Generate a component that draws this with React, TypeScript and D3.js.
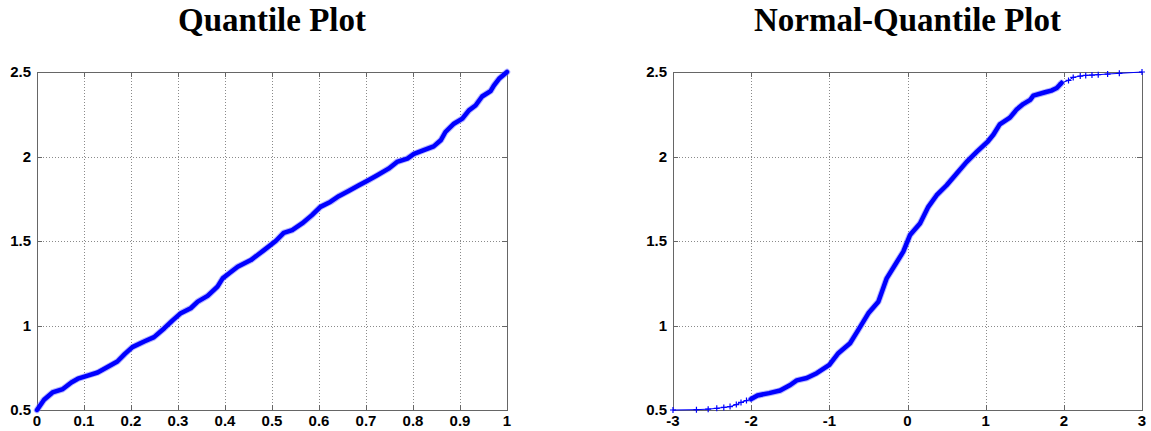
import * as d3 from "d3";
import React from "react";

// left panel: sorted sample values against their fraction
const qpFraction = [0, 0.015, 0.033, 0.055, 0.073, 0.087, 0.108, 0.129, 0.15, 0.171, 0.187, 0.203, 0.228, 0.249, 0.271, 0.288, 0.306, 0.327, 0.342, 0.363, 0.384, 0.395, 0.409, 0.427, 0.455, 0.483, 0.508, 0.525, 0.543, 0.564, 0.585, 0.603, 0.624, 0.642, 0.663, 0.685, 0.702, 0.724, 0.748, 0.766, 0.788, 0.802, 0.823, 0.844, 0.859, 0.869, 0.887, 0.905, 0.919, 0.933, 0.947, 0.965, 0.972, 0.983, 1.0];
const qpValue = [0.5, 0.561, 0.604, 0.624, 0.663, 0.685, 0.704, 0.722, 0.754, 0.787, 0.832, 0.872, 0.905, 0.931, 0.984, 1.029, 1.073, 1.102, 1.141, 1.175, 1.23, 1.279, 1.309, 1.348, 1.387, 1.446, 1.5, 1.548, 1.564, 1.604, 1.653, 1.702, 1.731, 1.765, 1.796, 1.83, 1.855, 1.889, 1.928, 1.968, 1.988, 2.015, 2.038, 2.06, 2.096, 2.145, 2.194, 2.224, 2.273, 2.302, 2.355, 2.387, 2.42, 2.46, 2.5];

// right panel: normal quantile vs value, tails are sparse markers
const nqLowZ = [-3.0, -2.7, -2.55, -2.44, -2.35, -2.27, -2.19, -2.13, -2.06, -2.0];
const nqLowY = [0.5, 0.502, 0.505, 0.51, 0.515, 0.52, 0.532, 0.545, 0.556, 0.565];
const nqBodyZ = [-2.0, -1.92, -1.77, -1.63, -1.5, -1.417, -1.289, -1.161, -1.0, -0.885, -0.735, -0.629, -0.501, -0.373, -0.266, -0.16, -0.054, 0.032, 0.16, 0.266, 0.373, 0.501, 0.629, 0.757, 0.885, 1.03, 1.1, 1.18, 1.31, 1.4, 1.48, 1.57, 1.61, 1.76, 1.84, 1.91, 1.97];
const nqBodyY = [0.565, 0.586, 0.6, 0.615, 0.648, 0.675, 0.689, 0.718, 0.767, 0.836, 0.895, 0.974, 1.072, 1.141, 1.279, 1.358, 1.437, 1.535, 1.604, 1.702, 1.771, 1.83, 1.899, 1.968, 2.027, 2.09, 2.13, 2.19, 2.23, 2.28, 2.31, 2.335, 2.36, 2.38, 2.39, 2.405, 2.435];
const nqHighZ = [1.97, 2.06, 2.12, 2.21, 2.28, 2.36, 2.44, 2.56, 2.71, 3.0];
const nqHighY = [2.435, 2.45, 2.468, 2.476, 2.48, 2.482, 2.484, 2.488, 2.492, 2.5];

const leftXTicks = [0, 0.1, 0.2, 0.3, 0.4, 0.5, 0.6, 0.7, 0.8, 0.9, 1];
const rightXTicks = [-3, -2, -1, 0, 1, 2, 3];
const yTicks = [0.5, 1, 1.5, 2, 2.5];

const top = 72;
const bottom = 410;
const blue = "#0000ff";
const axisCol = "#666";
const gridCol = "#8a8a8a";

type Pt = [number, number];

const zip = (a: number[], b: number[]): Pt[] => a.map((v, i) => [v, b[i]]);

function Panel({ x0, x1, domain, xTicks, title, band, markers, thin }: {
  x0: number; x1: number; domain: [number, number]; xTicks: number[]; title: string;
  band: Pt[]; markers: Pt[]; thin: Pt[];
}) {
  const x = d3.scaleLinear().domain(domain).range([x0, x1]);
  const y = d3.scaleLinear().domain([0.5, 2.5]).range([bottom, top]);
  const line = d3.line<Pt>().x(d => x(d[0])).y(d => y(d[1]));
  const tick = 5;
  const cx = (x0 + x1) / 2;
  return (
    <g>
      <text x={cx} y={31} textAnchor="middle" fontFamily="'Liberation Serif', serif" fontWeight="bold" fontSize={33}>{title}</text>
      {xTicks.slice(1, -1).map(t => (
        <line key={"gx" + t} x1={Math.round(x(t)) + 0.5} x2={Math.round(x(t)) + 0.5} y1={top} y2={bottom}
          stroke={gridCol} strokeDasharray="1,2" />
      ))}
      {yTicks.slice(1, -1).map(t => (
        <line key={"gy" + t} x1={x0} x2={x1} y1={Math.round(y(t)) + 0.5} y2={Math.round(y(t)) + 0.5}
          stroke={gridCol} strokeDasharray="1,2" />
      ))}
      {xTicks.map(t => (
        <g key={"tx" + t}>
          <line x1={Math.round(x(t)) + 0.5} x2={Math.round(x(t)) + 0.5} y1={bottom} y2={bottom - tick} stroke={axisCol} />
          <line x1={Math.round(x(t)) + 0.5} x2={Math.round(x(t)) + 0.5} y1={top} y2={top + tick} stroke={axisCol} />
          <text x={x(t)} y={426} textAnchor="middle" fontFamily="'Liberation Sans', Arial, sans-serif" fontWeight="bold" fontSize={15}>{String(t)}</text>
        </g>
      ))}
      {yTicks.map(t => (
        <g key={"ty" + t}>
          <line x1={x0} x2={x0 + tick} y1={Math.round(y(t)) + 0.5} y2={Math.round(y(t)) + 0.5} stroke={axisCol} />
          <line x1={x1} x2={x1 - tick} y1={Math.round(y(t)) + 0.5} y2={Math.round(y(t)) + 0.5} stroke={axisCol} />
          <text x={x0 - 6} y={y(t) + 5} textAnchor="end" fontFamily="'Liberation Sans', Arial, sans-serif" fontWeight="bold" fontSize={15}>{String(t)}</text>
        </g>
      ))}
      <rect x={x0 + 0.5} y={top + 0.5} width={x1 - x0} height={bottom - top} fill="none" stroke={axisCol} />
      {thin.length > 0 && (
        <path d={line(thin) || ""} fill="none" stroke={blue} strokeWidth={1} />
      )}
      {markers.map((d, i) => (
        <path key={"m" + i} d={`M${x(d[0]) - 3},${y(d[1])}h6M${x(d[0])},${y(d[1]) - 3}v6`} stroke={blue} strokeWidth={1.2} />
      ))}
      <path d={line(band) || ""} fill="none" stroke="#6f6fff" strokeOpacity={0.5} strokeWidth={6.5} strokeLinejoin="round" strokeLinecap="round" />
      <path d={line(band) || ""} fill="none" stroke={blue} strokeWidth={4.5} strokeLinejoin="round" strokeLinecap="round" />
    </g>
  );
}

export default function App() {
  const leftBand = zip(qpFraction, qpValue);
  const rightBand = zip(nqBodyZ, nqBodyY);
  const low = zip(nqLowZ, nqLowY);
  const high = zip(nqHighZ, nqHighY);
  const rightMarkers = [...low, ...high];
  const rightThin = [...low, ...rightBand, ...high];
  return (
    <svg width={1151} height={431} style={{ position: "absolute", left: 0, top: 0, background: "#fff" }}>
      <Panel x0={37} x1={507} domain={[0, 1]} xTicks={leftXTicks} title="Quantile Plot" band={leftBand} markers={[]} thin={[]} />
      <Panel x0={673} x1={1142} domain={[-3, 3]} xTicks={rightXTicks} title="Normal-Quantile Plot" band={rightBand} markers={rightMarkers} thin={rightThin} />
    </svg>
  );
}
